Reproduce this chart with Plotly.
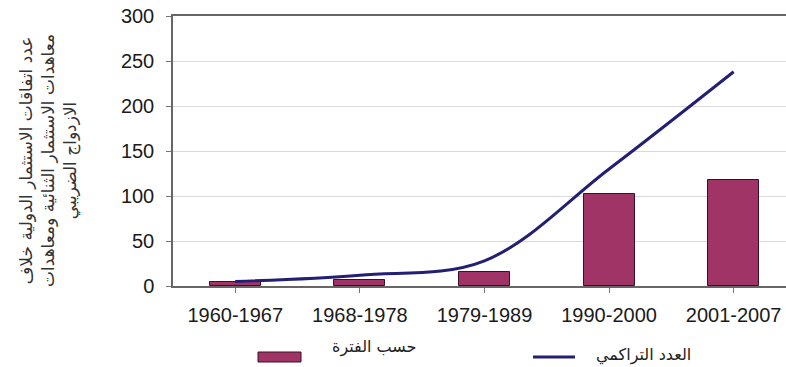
import plotly.graph_objects as go

categories = ["1960-1967", "1968-1978", "1979-1989", "1990-2000", "2001-2007"]
per_period = [5, 7, 16, 102, 118]
cumulative = [5, 12, 28, 130, 238]
y_ticks = [0, 50, 100, 150, 200, 250, 300]

W, H = 786, 367
L, R, T, B = 173, 0, 16, 81
PW, PH = W - L - R, H - T - B

def px(x):
    return (x - L) / PW

def py(y):
    return (H - B - y) / PH

BAR_COLOR = "#A03467"
LINE_COLOR = "#231F72"
TXT = "#1a1a1a"
AR_FONT = "DejaVu Sans"

fig = go.Figure()
fig.add_trace(go.Bar(
    x=list(range(len(categories))), y=per_period, width=0.41,
    marker=dict(color=BAR_COLOR, line=dict(color="#3b1026", width=1)),
    name="حسب الفترة", showlegend=False,
))
fig.add_trace(go.Scatter(
    x=list(range(len(categories))), y=cumulative, mode="lines",
    line=dict(color=LINE_COLOR, width=3, shape="spline", smoothing=1.0),
    name="العدد التراكمي", showlegend=False,
))

fig.update_layout(
    width=W, height=H,
    margin=dict(l=L, r=R, t=T, b=B, pad=0),
    paper_bgcolor="white", plot_bgcolor="white",
    font=dict(family="Liberation Sans, Arial, sans-serif", color=TXT),
    bargap=0,
    xaxis=dict(
        range=[-0.5, 4.42],
        tickmode="array", tickvals=list(range(len(categories))), ticktext=categories,
        tickson="boundaries", ticks="outside", ticklen=5, tickcolor="#777",
        showline=True, linecolor="#666", linewidth=1.5, mirror=True,
        showgrid=False, zeroline=False,
        tickfont=dict(size=20, color=TXT), ticklabelstandoff=5,
    ),
    yaxis=dict(
        range=[0, 300], tickmode="array", tickvals=y_ticks,
        ticks="outside", ticklen=5, tickcolor="#777",
        showline=True, linecolor="#666", linewidth=1.5,
        showgrid=True, gridcolor="#D9D9D9", gridwidth=1, zeroline=False,
        tickfont=dict(size=20, color=TXT), ticklabelstandoff=8,
    ),
)

# y-axis title
fig.add_annotation(
    xref="paper", yref="paper", x=px(48), y=py(160),
    xanchor="center", yanchor="middle", textangle=-90, showarrow=False,
    text="عدد اتفاقات الاستثمار الدولية خلاف<br>معاهدات الاستثمار الثنائية ومعاهدات<br>الازدواج الضريبي",
    font=dict(family=AR_FONT, size=17, color="#333"), align="center",
)

# legend (manual)
fig.add_shape(type="rect", xref="paper", yref="paper",
              x0=px(258), x1=px(301), y0=py(362), y1=py(352),
              fillcolor=BAR_COLOR, line=dict(color="#3b1026", width=1))
fig.add_annotation(xref="paper", yref="paper", x=px(374), y=py(347),
                   xanchor="center", yanchor="middle", showarrow=False,
                   text="حسب الفترة", font=dict(family=AR_FONT, size=16, color="#222"))
fig.add_shape(type="line", xref="paper", yref="paper",
              x0=px(533), x1=px(575), y0=py(357), y1=py(357),
              line=dict(color=LINE_COLOR, width=3))
fig.add_annotation(xref="paper", yref="paper", x=px(643), y=py(355),
                   xanchor="center", yanchor="middle", showarrow=False,
                   text="العدد التراكمي", font=dict(family=AR_FONT, size=16, color="#222"))

fig.write_html("out.html")
